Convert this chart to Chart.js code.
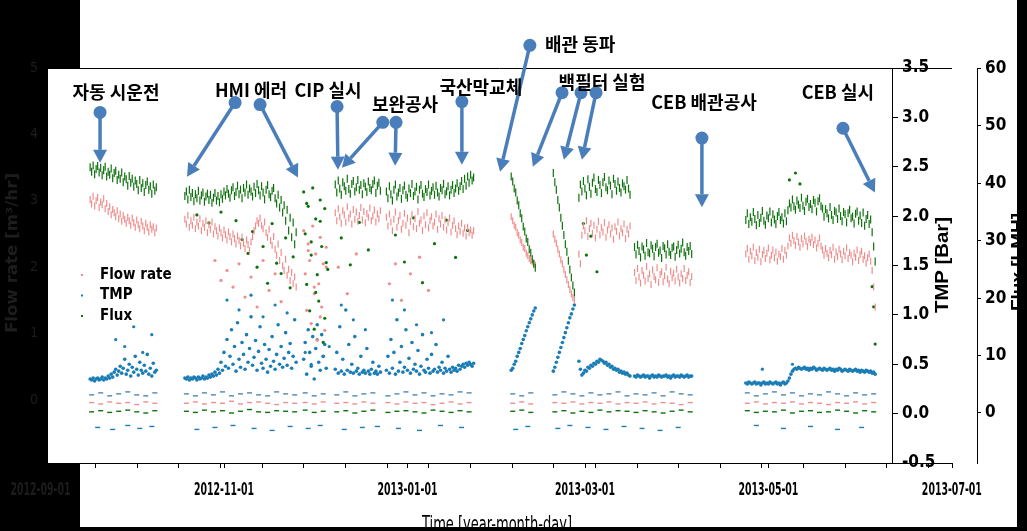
<!DOCTYPE html>
<html>
<head>
<meta charset="utf-8">
<script src="https://cdn.jsdelivr.net/npm/chart.js@4.4.1/dist/chart.umd.min.js"></script>
<style>
  html, body { margin: 0; padding: 0; background: #000; }
  canvas { display: block; }
</style>
</head>
<body>
<canvas id="chart" width="1027" height="531"></canvas>
<script>
// days are counted from 2012-09-01, one reading every half day inside each run
const STEP = 0.5;
const segStarts = [16.5, 48, 87.5, 98, 115, 156.5, 170.5, 179, 197.5, 234.5];
const SPARSE_RUN = 2; // the short broken-up run after the HMI error

// Flux [LMH] (green, right axis)
const fluxSegs = [
  [42.8,42.0,43.1,41.6,42.5,43.0,41.9,42.7,41.4,42.3,42.9,41.2,42.0,41.5,42.6,40.9,41.8,42.2,40.6,41.5,40.8,41.9,40.2,41.2,40.7,39.6,41.3,40.1,40.8,39.4,40.5,39.9,38.8,40.6,39.2,40.0,38.5,39.7,40.3,38.9,39.5,38.2,39.8,38.7,39.3],
  [37.8,38.6,37.2,38.9,37.6,38.3,36.9,38.1,37.4,38.7,37.0,37.9,38.4,36.8,37.7,38.2,37.1,38.0,36.6,37.5,38.3,37.0,37.8,36.7,38.1,37.3,38.6,37.9,39.0,38.2,37.5,38.8,39.3,37.8,38.5,39.6,38.1,38.9,37.4,39.2,38.4,39.8,38.0,39.1,38.6,37.7,39.4,38.3,39.9,38.8,37.9,39.5,38.4,37.2,38.9,39.7,38.1,37.6,38.7,39.2,37.4,36.5,38.0,35.8,37.1,34.9,36.2,33.5,35.4,31.8,34.0,30.6,33.2,29.4,31.5],
  [38.5,31.2,22.4,36.0,17.8,27.5,39.2,14.6,33.8,24.1,19.5,37.1,29.0,12.3,35.6,26.2],
  [39.8,38.4,40.5,39.1,38.0,40.2,39.5,38.7,40.8,39.0,38.2,39.9,40.4,38.6,39.3,40.6,38.9,39.7,38.1,40.0,39.4,38.5,40.3,39.2,38.8,39.9,40.5,38.3,39.6,40.1,38.7],
  [38.6,37.4,39.5,38.1,37.0,38.9,39.8,37.7,38.4,39.2,37.3,38.8,39.6,38.0,37.5,39.1,38.3,39.9,37.8,38.6,39.4,37.2,38.9,39.7,38.2,37.6,39.0,38.5,39.8,37.9,38.7,39.3,38.0,39.6,38.4,37.7,39.2,38.8,39.9,38.1,38.6,39.5,37.9,38.9,39.7,38.3,39.1,40.0,38.7,39.5,40.4,39.0,40.8,39.6,41.2,40.1,41.5,40.5,41.0],
  [41.2,40.3,39.1,38.4,37.0,36.2,34.8,33.9,32.5,31.6,30.4,29.8,28.5,27.9,26.8,26.0,25.3],
  [41.8,40.2,38.9,37.1,35.8,34.0,32.6,31.0,29.4,28.1,26.5,25.0,23.6,22.2,21.0],
  [37.5,39.8,38.6,40.4,39.1,37.9,40.7,39.4,38.2,40.1,41.0,39.0,38.5,40.6,39.7,38.3,40.2,41.1,39.3,38.8,40.5,39.6,38.1,40.8,39.9,38.7,40.3,39.2,38.4,40.0,39.5,38.9,40.6,39.1,38.0],
  [28.9,27.6,29.3,28.2,27.1,29.0,28.5,27.4,29.6,28.0,27.8,29.2,28.6,27.3,28.9,29.5,27.9,28.3,27.0,29.1,28.7,27.6,29.4,28.1,27.5,28.8,29.0,27.2,28.4,29.3,27.8,28.6,29.7,28.0,27.4,28.9,28.2,29.1,27.7],
  [33.6,34.8,32.9,34.1,33.3,35.0,33.8,32.7,34.5,33.1,34.0,35.2,33.5,32.8,34.4,33.9,35.1,33.2,34.6,33.7,32.9,34.3,35.0,33.6,34.1,33.0,34.8,33.4,35.3,36.5,35.8,37.2,36.0,35.4,37.0,36.3,35.7,37.5,36.1,35.2,36.8,37.3,35.9,36.4,35.5,37.1,36.6,35.1,36.9,37.4,36.0,35.6,34.2,35.5,34.8,33.9,35.9,34.5,33.6,35.2,34.9,33.8,35.6,34.3,33.4,35.0,34.6,33.2,34.8,35.4,33.9,34.2,33.0,34.7,35.1,33.5,34.4,33.1,34.9,32.6,33.8,34.5,32.9,33.7,31.5,29.0,26.4]
];

// Flow rate (pink, left axis)
const flowSegs = [
  [3.02,2.95,3.07,2.92,3.00,3.05,2.90,2.98,2.94,3.03,2.88,2.96,2.84,2.91,2.79,2.87,2.82,2.76,2.85,2.73,2.80,2.69,2.78,2.72,2.66,2.75,2.70,2.63,2.74,2.67,2.60,2.71,2.64,2.58,2.69,2.62,2.55,2.66,2.60,2.53,2.64,2.57,2.61,2.52,2.59],
  [2.72,2.65,2.78,2.60,2.70,2.63,2.75,2.58,2.68,2.62,2.73,2.55,2.66,2.60,2.70,2.52,2.64,2.57,2.68,2.50,2.61,2.55,2.47,2.59,2.52,2.44,2.56,2.49,2.41,2.53,2.46,2.38,2.50,2.43,2.35,2.47,2.40,2.32,2.45,2.36,2.28,2.41,2.34,2.25,2.38,2.46,2.55,2.62,2.70,2.66,2.74,2.63,2.58,2.68,2.52,2.45,2.57,2.40,2.33,2.46,2.27,2.18,2.35,2.10,2.22,2.02,1.95,2.12,1.88,1.97,1.80,1.92,1.75,1.85,1.70],
  [2.55,1.90,1.35,2.35,2.10,1.15,2.62,1.60,2.20,0.90,1.75,2.45,1.40,2.05,1.05,2.30],
  [2.82,2.70,2.88,2.76,2.66,2.85,2.79,2.68,2.91,2.74,2.80,2.65,2.87,2.72,2.83,2.69,2.78,2.90,2.71,2.84,2.67,2.81,2.75,2.89,2.70,2.77,2.86,2.68,2.80,2.73,2.85],
  [2.75,2.62,2.80,2.68,2.55,2.72,2.83,2.60,2.70,2.78,2.57,2.66,2.81,2.63,2.74,2.52,2.69,2.79,2.61,2.73,2.58,2.84,2.66,2.71,2.55,2.77,2.64,2.82,2.59,2.70,2.76,2.62,2.68,2.80,2.57,2.73,2.65,2.78,2.60,2.71,2.56,2.67,2.74,2.53,2.63,2.70,2.58,2.49,2.62,2.54,2.66,2.51,2.59,2.47,2.60,2.52,2.56,2.48,2.55],
  [2.76,2.70,2.63,2.60,2.52,2.48,2.41,2.37,2.30,2.28,2.21,2.17,2.13,2.10,2.08,2.06,2.03],
  [2.50,2.42,2.36,2.27,2.20,2.11,2.05,1.96,1.89,1.81,1.74,1.66,1.60,1.54,1.50],
  [2.20,2.05,2.48,2.62,2.55,2.70,2.46,2.58,2.66,2.51,2.63,2.44,2.57,2.69,2.49,2.60,2.53,2.67,2.45,2.56,2.64,2.50,2.59,2.42,2.61,2.54,2.68,2.47,2.58,2.52,2.65,2.43,2.57,2.50,2.62],
  [1.92,1.80,1.98,1.85,1.76,1.95,1.88,1.79,2.01,1.83,1.90,1.74,1.96,1.86,1.81,1.99,1.77,1.89,1.93,1.78,1.87,2.00,1.82,1.75,1.94,1.84,1.91,1.79,1.97,1.85,1.76,1.90,1.83,1.98,1.80,1.88,1.93,1.77,1.86],
  [2.20,2.28,2.12,2.24,2.17,2.30,2.10,2.22,2.15,2.27,2.08,2.19,2.25,2.13,2.21,2.29,2.11,2.18,2.26,2.14,2.23,2.09,2.20,2.16,2.28,2.12,2.25,2.18,2.32,2.44,2.36,2.48,2.40,2.33,2.46,2.38,2.30,2.43,2.35,2.47,2.39,2.31,2.42,2.37,2.45,2.34,2.41,2.29,2.36,2.44,2.32,2.26,2.18,2.28,2.21,2.14,2.25,2.19,2.30,2.12,2.23,2.16,2.27,2.20,2.11,2.24,2.17,2.29,2.13,2.22,2.18,2.08,2.21,2.15,2.26,2.10,2.19,2.24,2.12,2.17,2.06,2.14,2.20,2.09,1.95,1.70,1.40]
];

// TMP [Bar] (blue, first right axis)
const tmpSegs = [
  [0.35,0.34,0.36,0.33,0.35,0.36,0.34,0.35,0.37,0.34,0.36,0.35,0.38,0.36,0.40,0.37,0.42,0.45,0.39,0.43,0.48,0.41,0.46,0.55,0.40,0.44,0.50,0.38,0.47,0.42,0.58,0.45,0.39,0.52,0.44,0.41,0.49,0.43,0.60,0.40,0.46,0.38,0.51,0.42,0.44],
  [0.36,0.35,0.37,0.34,0.36,0.35,0.37,0.36,0.34,0.37,0.35,0.36,0.38,0.35,0.37,0.36,0.39,0.37,0.40,0.38,0.42,0.39,0.45,0.41,0.52,0.44,0.62,0.48,0.75,0.46,0.58,0.85,0.50,0.68,0.43,0.92,0.55,0.47,0.72,0.60,0.45,0.80,0.52,0.66,0.98,0.49,0.57,0.74,0.44,0.63,0.88,0.51,0.46,0.70,0.55,0.42,0.65,0.48,0.78,0.53,0.45,0.60,0.90,0.50,0.68,0.47,0.56,0.82,0.49,0.62,0.71,0.46,0.58,0.95,0.52],
  [0.55,0.72,0.40,0.85,0.62,0.48,0.78,0.35,0.66,0.90,0.52,0.44,0.80,0.58,0.70,0.46],
  [0.45,0.62,0.41,0.88,0.43,0.55,0.40,1.05,0.44,0.70,0.42,0.50,0.41,0.78,0.43,0.46,0.40,0.58,0.42,0.44,0.41,0.66,0.43,0.40,0.45,0.52,0.41,0.43,0.40,0.48,0.42],
  [0.44,0.58,0.41,0.75,0.46,0.62,0.40,0.95,0.43,0.52,0.68,0.42,0.47,0.85,0.44,0.56,0.41,0.72,0.45,0.50,0.43,0.64,0.40,0.48,0.80,0.44,0.42,0.55,0.46,0.41,0.60,0.43,0.45,0.70,0.42,0.47,0.44,0.52,0.41,0.46,0.43,0.58,0.45,0.42,0.47,0.44,0.46,0.43,0.49,0.45,0.48,0.50,0.47,0.51,0.49,0.52,0.50,0.48,0.51],
  [0.44,0.46,0.50,0.53,0.58,0.62,0.66,0.71,0.75,0.79,0.84,0.88,0.92,0.96,1.00,1.04,1.07],
  [0.43,0.47,0.52,0.57,0.62,0.67,0.72,0.77,0.82,0.87,0.92,0.97,1.01,1.06,1.10],
  [0.53,0.45,0.39,0.41,0.44,0.43,0.47,0.46,0.49,0.48,0.51,0.50,0.53,0.52,0.55,0.54,0.53,0.51,0.52,0.49,0.50,0.47,0.48,0.45,0.46,0.44,0.45,0.42,0.43,0.41,0.42,0.40,0.41,0.39,0.38],
  [0.38,0.37,0.39,0.38,0.37,0.38,0.39,0.37,0.38,0.38,0.36,0.38,0.39,0.37,0.38,0.37,0.39,0.38,0.37,0.38,0.38,0.39,0.37,0.38,0.36,0.38,0.39,0.37,0.38,0.38,0.37,0.39,0.38,0.37,0.38,0.39,0.37,0.38,0.38],
  [0.31,0.30,0.32,0.31,0.30,0.31,0.32,0.30,0.31,0.31,0.29,0.31,0.32,0.30,0.31,0.30,0.32,0.31,0.30,0.31,0.32,0.30,0.31,0.29,0.31,0.32,0.30,0.31,0.33,0.36,0.40,0.43,0.45,0.46,0.45,0.47,0.46,0.45,0.46,0.47,0.45,0.46,0.44,0.46,0.45,0.47,0.46,0.44,0.45,0.46,0.45,0.44,0.46,0.45,0.44,0.45,0.46,0.44,0.45,0.43,0.45,0.44,0.46,0.45,0.43,0.44,0.45,0.44,0.43,0.45,0.44,0.43,0.44,0.45,0.43,0.44,0.42,0.44,0.43,0.42,0.44,0.43,0.42,0.43,0.41,0.42,0.40]
];

// stray readings
const fluxOut = [[52,34.5],[56,33.1],[60,35.0],[65,33.5],[67,30.2],[69,27.8],[70.5,31.6],[72,25.4],[74,29.0],[75.5,22.6],[77,33.0],[78.5,26.1],[80,24.3],[81.5,30.5],[83,21.8],[84,27.2],
  [88.5,36.5],[90,29.8],[91.5,21.0],[93,33.4],[94.5,16.5],[95.5,25.0],
  [100,30.5],[103,25.8],[106,33.2],[109,28.4],[118,31.0],[121,26.3],[124,34.0],[127,22.7],[131,29.5],[135,33.6],[138,27.1],[142,31.8],
  [180.5,33.0],[181.5,27.5],[183,30.8],[185,24.6],[249,40.6],[251,41.8],[252.5,39.9],[276.5,22.0],[277,18.5],[277.5,12.0]];
const flowOut = [[58,2.10],[60,1.80],[62,1.95],[64,1.70],[66,2.05],[68,1.55],[70,1.85],[72,1.40],[74,2.10],[76,1.65],[78,1.90],[80,1.48],
  [89,2.25],[91,1.70],[93,1.25],[95,2.00],
  [99,2.0],[102,1.6],[105,2.2],[116,1.75],[118,2.05],[120,1.50],[123,1.90],[126,2.15],[129,1.65]];
const tmpOut = [[25,0.75],[28,0.68],[31,0.88],[34,0.62],[37,0.80],[62,1.15],[66,1.05],[70,1.20],[74,0.98],[78,1.10],[82,1.02],
  [88,0.62],[90,0.50],[92,0.75],[94,0.58],[96,0.68],
  [100,1.10],[104,0.95],[108,0.85],[117,1.15],[121,1.05],[125,0.90],[130,0.82],[134,0.95],[240,0.45],[250,0.50]];

// readings while the unit stood idle
const idleDays = [17,20,23,26,29,32,35,38, 48.5,51.5,54.5,57.5,60.5,63.5,66.5,69.5,72.5,75.5,78.5,81.5,84.5, 88,91,94,
  98.5,101.5,104.5,107.5,110.5, 115.5,118.5,121.5,124.5,127.5,130.5,133.5,136.5,139.5,142.5, 157,160,163, 171,174,177,
  180,183,186,189,192,195, 198,201,204,207,210,213,216, 235,238,241,244,247,250,253,256,259,262,265,268,271,274,277];
const tmpIdle = [0.19,0.21,0.18,0.20,0.22,0.19,0.18,0.21, 0.20,0.18,0.21,0.19,0.22,0.18,0.20,0.21,0.19,0.18,0.22,0.20,0.19, 0.21,0.18,0.20,
  0.19,0.22,0.18,0.20,0.21, 0.18,0.20,0.22,0.19,0.21,0.18,0.20,0.19,0.22,0.21, 0.20,0.18,0.21, 0.19,0.22,0.20,
  0.18,0.21,0.19,0.20,0.22,0.18, 0.20,0.19,0.21,0.18,0.22,0.20,0.19, 0.21,0.18,0.20,0.22,0.19,0.21,0.18,0.20,0.19,0.22,0.20,0.18,0.21,0.19,0.20];
const flowIdle = [-0.04,-0.06,-0.03,-0.05,-0.04,-0.07,-0.03,-0.05, -0.05,-0.03,-0.06,-0.04,-0.05,-0.02,-0.06,-0.04,-0.03,-0.05,-0.07,-0.04,-0.05, -0.04,-0.06,-0.03,
  -0.05,-0.04,-0.06,-0.03,-0.05, -0.04,-0.06,-0.03,-0.05,-0.04,-0.07,-0.05,-0.03,-0.06,-0.04, -0.05,-0.03,-0.06, -0.04,-0.05,-0.03,
  -0.06,-0.04,-0.05,-0.03,-0.06,-0.04, -0.05,-0.03,-0.06,-0.04,-0.05,-0.07,-0.04, -0.05,-0.03,-0.06,-0.04,-0.05,-0.03,-0.06,-0.04,-0.05,-0.07,-0.04,-0.05,-0.03,-0.06,-0.04];
const fluxIdle = [0.2,0.4,0.1,0.3,0.5,0.2,0.0,0.4, 0.3,0.1,0.5,0.2,0.4,0.0,0.3,0.6,0.2,0.1,0.4,0.3,0.2, 0.5,0.1,0.3,
  0.2,0.4,0.0,0.3,0.5, 0.1,0.3,0.4,0.2,0.0,0.5,0.3,0.1,0.4,0.2, 0.3,0.5,0.1, 0.2,0.4,0.0,
  0.3,0.1,0.5,0.2,0.4,0.3, 0.1,0.4,0.2,0.0,0.3,0.5,0.2, 0.4,0.1,0.3,0.2,0.5,0.0,0.3,0.4,0.1,0.2,0.5,0.3,0.0,0.4,0.2];
const tmpLowDays = [19,24,29,33,37,52,58,64,71,77,83,89,93,101,107,112,119,126,133,140,158,162,172,176,182,188,194,200,206,212,238,247,256,265,273];
const tmpLow = [-0.14,-0.16,-0.12,-0.15,-0.13,-0.16,-0.14,-0.12,-0.15,-0.17,-0.13,-0.15,-0.12,-0.16,-0.14,-0.13,-0.15,-0.17,-0.12,-0.14,
  -0.16,-0.13,-0.15,-0.12,-0.14,-0.16,-0.13,-0.15,-0.17,-0.14,-0.12,-0.15,-0.13,-0.16,-0.14];

// axes
const xLabelDays = [0, 61, 122, 181, 242, 303];
const xLabels = ['2012-09-01', '2012-11-01', '2013-01-01', '2013-03-01', '2013-05-01', '2013-07-01'];
const xMinorDays = [18.1,32.1,45.7,59.7,73.6,87.3,101.2,115.2,128.8,142.7,156.7,170.4,184.3,198.3,211.9,225.9,239.5,253.5,267.5,281.1,295.1];
const tmpTicks = [-0.5, 0, 0.5, 1, 1.5, 2, 2.5, 3, 3.5];
const fluxTicks = [0, 10, 20, 30, 40, 50, 60];
const flowTicks = [0, 1, 2, 3, 4, 5];

// event notes (day, TMP bar)
const noteTexts = ['자동 시운전', 'HMI 에러', 'CIP 실시', '보완공사', '국산막교체', '배관 동파', '백필터 실험', 'CEB 배관공사', 'CEB 실시'];
const noteDays = [25.1, 70.0, 95.6, 121.2, 146.4, 179.4, 186.7, 220.6, 265.1];
const noteTmp = [3.26, 3.28, 3.28, 3.13, 3.31, 3.74, 3.36, 3.15, 3.26];
const arrowFrom = [[19.8,3.05],[64.7,3.15],[73.0,3.13],[98.6,3.11],[113.8,2.95],[118.2,2.95],[140.1,3.16],[162.7,3.73],[173.4,3.25],[179.7,3.25],[184.7,3.25],[219.9,2.79],[266.8,2.89]];
const arrowTo = [[19.8,2.54],[48.7,2.40],[85.6,2.39],[98.9,2.47],[100.2,2.49],[117.9,2.51],[140.1,2.52],[152.8,2.45],[163.7,2.50],[174.0,2.57],[180.0,2.57],[219.9,2.09],[277.4,2.24]];

const GREEN = '#0d720d', PINK = '#ef8d8d', BLUE = '#1b7db6', ARROW = '#4a7ebb', DIM = '#1d1d1d';
const NARROW = "'Liberation Sans Narrow', 'DejaVu Sans Condensed', Arial, sans-serif";
const SANS = "'Liberation Sans', Arial, sans-serif";
const KR = "'Noto Sans CJK KR', 'Noto Sans', sans-serif";

const toPoints = (segs, keep) => segs.flatMap((vals, s) =>
  keep(s) ? vals.map((v, i) => ({ x: segStarts[s] + i * STEP, y: v })) : []);
const dense = segs => toPoints(segs, s => s !== SPARSE_RUN);
const sparse = segs => toPoints(segs, s => s === SPARSE_RUN);
const allRuns = segs => toPoints(segs, () => true);
const fromPairs = arr => arr.map(([x, y]) => ({ x, y }));
const zipDays = (days, vals) => days.map((d, i) => ({ x: d, y: vals[i] }));

// dense runs: each half-day reading drawn as a short vertical stroke
function runs(data, axis, color, len) {
  return { data, yAxisID: axis, borderColor: color, backgroundColor: color, pointStyle: 'line', rotation: 90, pointRadius: len, pointBorderWidth: 1.2 };
}
function dots(data, axis, color, r) {
  return { data, yAxisID: axis, backgroundColor: color, borderColor: color, pointRadius: r || 1.6, pointBorderWidth: 0, pointStyle: 'circle' };
}
function dashes(data, axis, color) {
  return { data, yAxisID: axis, borderColor: color, backgroundColor: color, pointRadius: 2.5, pointBorderWidth: 1.4, pointStyle: 'line' };
}

function text(ctx, s, x, y, font, color, align, fitW) {
  ctx.save();
  ctx.font = font;
  ctx.fillStyle = color;
  ctx.textAlign = align || 'center';
  ctx.textBaseline = 'middle';
  ctx.translate(x, y);
  if (fitW) ctx.scale(fitW / ctx.measureText(s).width, 1);
  ctx.fillText(s, 0, 0);
  ctx.restore();
}
function vtext(ctx, s, x, y, font, color, fitW) {
  ctx.save();
  ctx.font = font;
  ctx.fillStyle = color;
  ctx.textAlign = 'center';
  ctx.textBaseline = 'middle';
  ctx.translate(x, y);
  ctx.rotate(-Math.PI / 2);
  if (fitW) ctx.scale(fitW / ctx.measureText(s).width, 1);
  ctx.fillText(s, 0, 0);
  ctx.restore();
}
function arrow(ctx, x1, y1, x2, y2) {
  const a = Math.atan2(y2 - y1, x2 - x1);
  const head = 13, half = 7;
  const bx = x2 - head * Math.cos(a), by = y2 - head * Math.sin(a);
  ctx.save();
  ctx.strokeStyle = ARROW;
  ctx.fillStyle = ARROW;
  ctx.lineWidth = 3.5;
  ctx.beginPath(); ctx.moveTo(x1, y1); ctx.lineTo(bx, by); ctx.stroke();
  ctx.beginPath();
  ctx.moveTo(x2, y2);
  ctx.lineTo(bx + half * Math.sin(a), by - half * Math.cos(a));
  ctx.lineTo(bx - half * Math.sin(a), by + half * Math.cos(a));
  ctx.closePath(); ctx.fill();
  ctx.beginPath(); ctx.arc(x1, y1, 6.5, 0, Math.PI * 2); ctx.fill();
  ctx.restore();
}

const decor = {
  id: 'decor',
  beforeDraw(chart) {
    const { ctx, chartArea: a } = chart;
    ctx.save();
    ctx.fillStyle = '#000';
    ctx.fillRect(0, 0, chart.width, chart.height);
    ctx.fillStyle = '#fff';
    ctx.fillRect(80, 0, 937, 527);
    ctx.fillRect(a.left, a.top, a.right - a.left, a.bottom - a.top);
    ctx.restore();
  },
  afterDraw(chart) {
    const { ctx, chartArea: a } = chart;
    const xs = chart.scales.x, ts = chart.scales.yTmp;
    const P = (d, t) => [xs.getPixelForValue(d), ts.getPixelForValue(t)];

    ctx.save();
    ctx.strokeStyle = '#000';
    ctx.lineWidth = 1;
    ctx.beginPath();
    ctx.moveTo(a.left, a.top + 0.5); ctx.lineTo(952, a.top + 0.5);
    ctx.moveTo(a.right, a.bottom + 0.5); ctx.lineTo(953, a.bottom + 0.5);
    xMinorDays.concat(xLabelDays).forEach(d => {
      const x = Math.round(xs.getPixelForValue(d)) + 0.5;
      ctx.moveTo(x, a.bottom); ctx.lineTo(x, a.bottom + 5);
    });
    ctx.stroke();
    ctx.restore();

    xLabelDays.forEach((d, i) => {
      const x = xs.getPixelForValue(d);
      text(ctx, xLabels[i], x, 490, 'bold 18px ' + NARROW, x < 80 ? DIM : '#000', 'center', 60);
    });

    vtext(ctx, 'TMP [Bar]', 943, 265, 'bold 19px ' + SANS, '#000', 96);
    vtext(ctx, 'Flux [LMH]', 1019, 262, 'bold 19px ' + SANS, '#000');
    vtext(ctx, 'Flow rate [m³/hr]', 13, 253, 'bold 16px ' + NARROW, DIM, 160);

    // legend
    [['Flow rate', PINK], ['TMP', BLUE], ['Flux', GREEN]].forEach(([s, c], i) => {
      const y = 275 + i * 20.5;
      ctx.fillStyle = c;
      ctx.fillRect(81, y - 1, 2, 2);
      text(ctx, s, 100, y, 'bold 15px ' + NARROW, '#000', 'left');
    });

    // notes and arrows
    arrowFrom.forEach((f, i) => {
      const [x1, y1] = P(f[0], f[1]);
      const [x2, y2] = P(arrowTo[i][0], arrowTo[i][1]);
      arrow(ctx, x1, y1, x2, y2);
    });
    noteTexts.forEach((s, i) => {
      const [x, y] = P(noteDays[i], noteTmp[i]);
      text(ctx, s, x, y, 'bold 18px ' + KR, '#000', 'center');
    });

    ctx.save();
    ctx.font = '21px ' + NARROW;
    ctx.fillStyle = '#000';
    ctx.textAlign = 'center';
    ctx.textBaseline = 'alphabetic';
    ctx.translate(497, 531);
    ctx.scale(150 / ctx.measureText('Time [year-month-day]').width, 1);
    ctx.fillText('Time [year-month-day]', 0, 0);
    ctx.restore();

    ctx.fillStyle = '#000';
    ctx.fillRect(0, 527, chart.width, chart.height - 527);
    ctx.fillRect(1018, 0, chart.width - 1018, chart.height);
  }
};

new Chart(document.getElementById('chart'), {
  type: 'scatter',
  data: {
    datasets: [
      runs(dense(fluxSegs), 'yFlux', GREEN, 4),
      runs(dense(flowSegs), 'yFlow', PINK, 3.5),
      dots(allRuns(tmpSegs), 'yTmp', BLUE, 1.8),
      dots(sparse(fluxSegs).concat(fromPairs(fluxOut)), 'yFlux', GREEN),
      dots(sparse(flowSegs).concat(fromPairs(flowOut)), 'yFlow', PINK),
      dots(fromPairs(tmpOut), 'yTmp', BLUE),
      dashes(zipDays(idleDays, fluxIdle), 'yFlux', GREEN),
      dashes(zipDays(idleDays, flowIdle), 'yFlow', PINK),
      dashes(zipDays(idleDays, tmpIdle), 'yTmp', '#4d87b0'),
      dashes(zipDays(tmpLowDays, tmpLow), 'yTmp', BLUE)
    ]
  },
  options: {
    responsive: false,
    animation: false,
    events: [],
    layout: { padding: { top: 68, left: 0, right: 0, bottom: 0 } },
    plugins: { legend: { display: false }, tooltip: { enabled: false } },
    scales: {
      x: {
        type: 'linear', position: 'bottom', min: 2.16, max: 283.1,
        grid: { display: false },
        border: { display: true, color: '#000', width: 1 },
        ticks: { display: false },
        afterFit(s) { s.height = 68; }
      },
      yFlow: {
        type: 'linear', position: 'left', min: -0.95, max: 5,
        grid: { drawOnChartArea: false, drawTicks: true, tickLength: 5, color: '#000' },
        border: { display: true, color: '#000', width: 1 },
        ticks: { color: DIM, padding: 4, font: { family: NARROW, size: 14 } },
        afterBuildTicks(s) { s.ticks = flowTicks.map(v => ({ value: v })); },
        afterFit(s) { s.width = 47; }
      },
      yTmp: {
        type: 'linear', position: 'right', min: -0.5, max: 3.5,
        grid: { drawOnChartArea: false, drawTicks: true, tickLength: 6, color: '#000' },
        border: { display: true, color: '#000', width: 1 },
        ticks: { color: '#000', padding: 4, font: { family: NARROW, size: 17, weight: 'bold' }, callback: v => v.toFixed(1) },
        afterBuildTicks(s) { s.ticks = tmpTicks.map(v => ({ value: v })); },
        afterFit(s) { s.width = 85; }
      },
      yFlux: {
        type: 'linear', position: 'right', min: -8.71, max: 60.09,
        grid: { drawOnChartArea: false, drawTicks: true, tickLength: 4, color: '#000' },
        border: { display: true, color: '#000', width: 1 },
        ticks: { color: '#000', padding: 4, font: { family: NARROW, size: 17, weight: 'bold' }, callback: v => String(v) },
        afterBuildTicks(s) { s.ticks = fluxTicks.map(v => ({ value: v })); },
        afterFit(s) { s.width = 50; }
      }
    }
  },
  plugins: [decor]
});
</script>
</body>
</html>
